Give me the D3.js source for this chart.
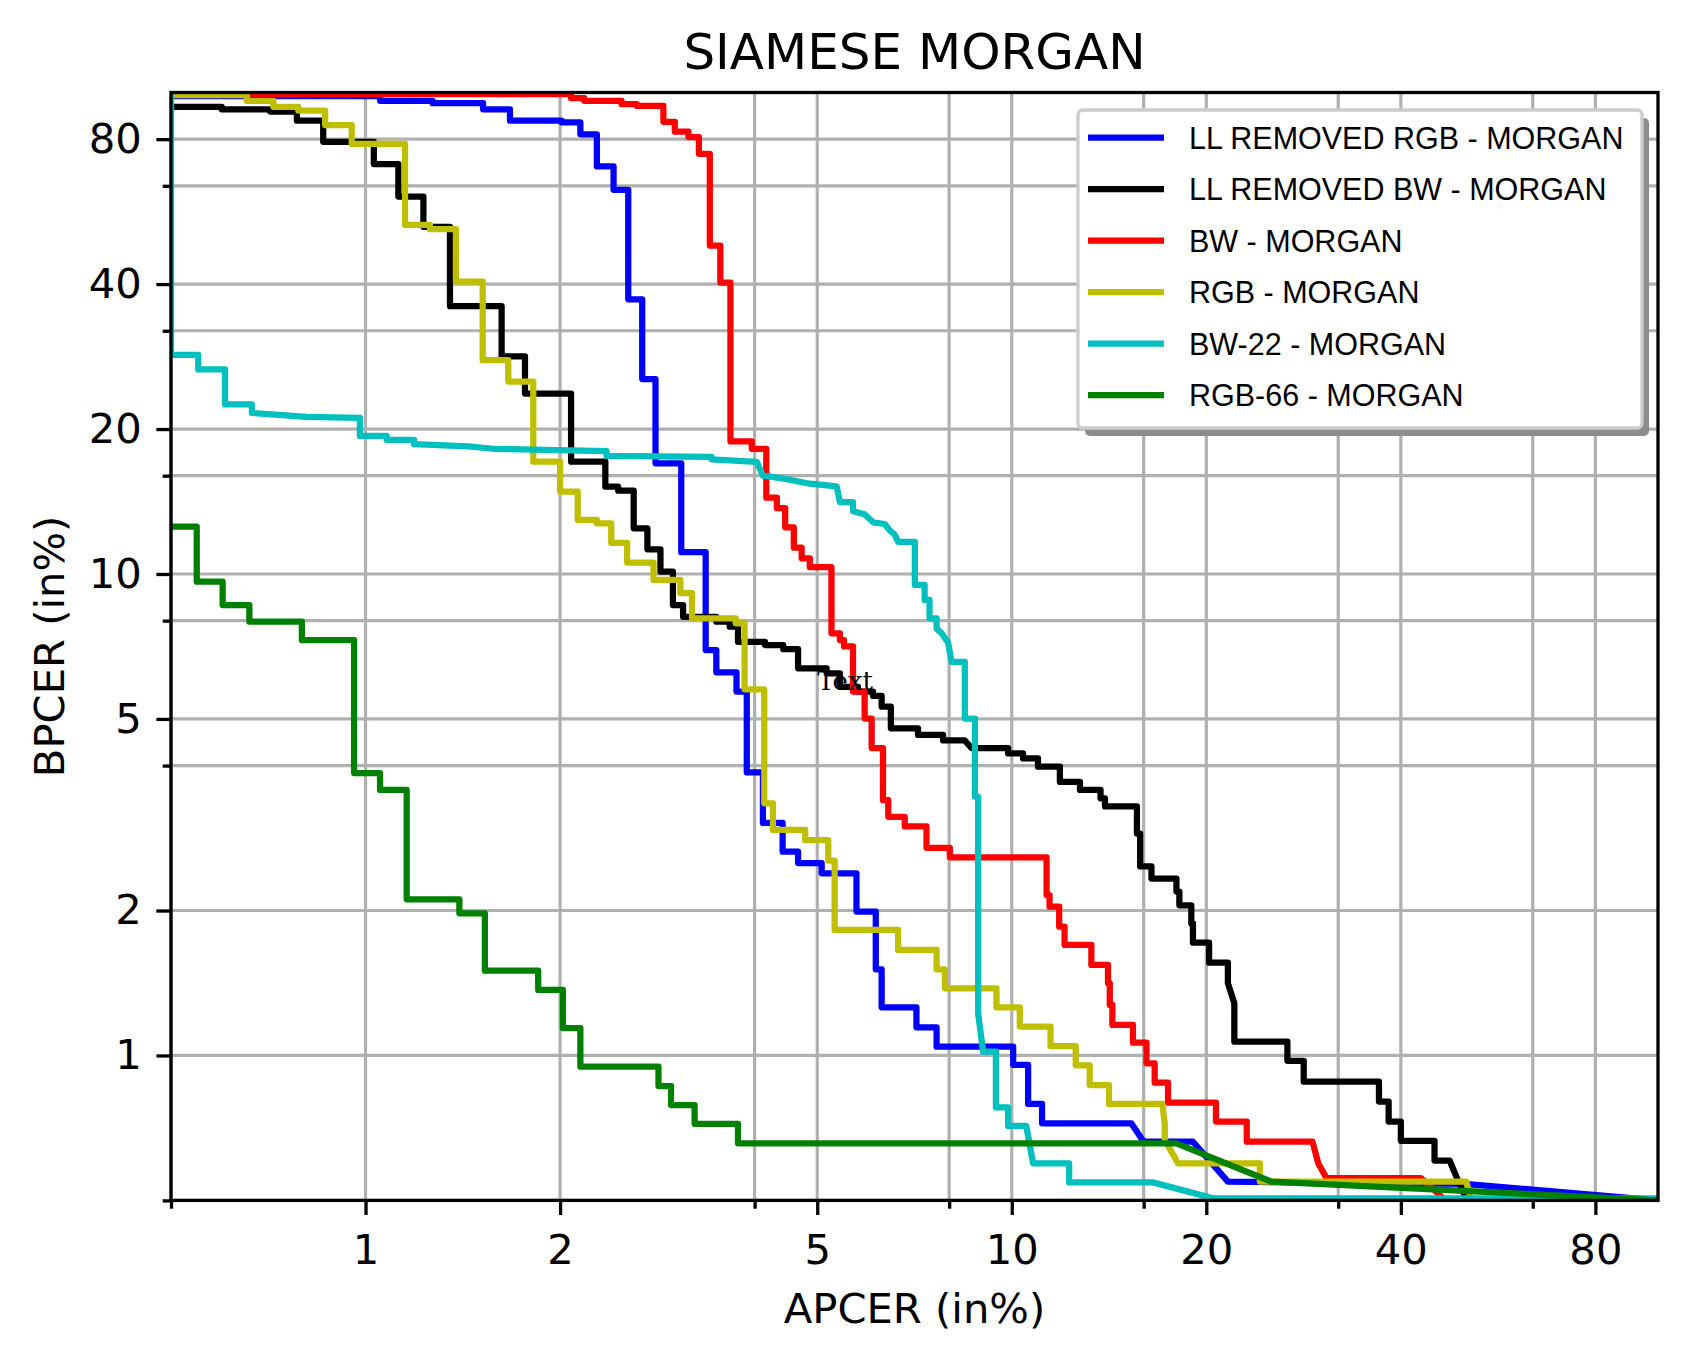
<!DOCTYPE html>
<html lang="en">
<head>
    <meta charset="utf-8">
    <title>SIAMESE MORGAN</title>
    <script src="https://d3js.org/d3.v7.min.js"></script>
    <style>
        body { margin: 0; background: #fff; }
    </style>
</head>
<body>
<div id="dataviz"></div>
<script>
// DET curves, APCER vs BPCER, both in % on log axes
var chartTitle = "SIAMESE MORGAN";
var xLabel = "APCER (in%)";
var yLabel = "BPCER (in%)";
var axisDomain = [0.5, 100];
var majorTicks = [1, 2, 5, 10, 20, 40, 80];
var minorTicks = [0.5, 4, 8, 16, 32, 64];
var noteText = "Text";
var notePos = [5, 5.75];

var seriesNames = ["LL REMOVED RGB - MORGAN", "LL REMOVED BW - MORGAN", "BW - MORGAN",
                   "RGB - MORGAN", "BW-22 - MORGAN", "RGB-66 - MORGAN"];

var llRemovedRgb = [[0.5, 98.3], [1.053, 98.3], [1.053, 96.1], [1.27, 96.1], [1.27, 95.0], [1.52, 95.0],
    [1.52, 92.3], [1.673, 92.3], [1.673, 87.4], [2.01, 87.4], [2.01, 86.7], [2.15, 86.7], [2.15, 81.9],
    [2.28, 81.9], [2.28, 70.2], [2.42, 70.2], [2.42, 62.8], [2.55, 62.8], [2.55, 37.2], [2.68, 37.2],
    [2.68, 25.4], [2.81, 25.4], [2.81, 16.98], [3.08, 16.98], [3.08, 11.1], [3.36, 11.1], [3.36, 6.95],
    [3.49, 6.95], [3.49, 6.25], [3.75, 6.25], [3.75, 5.7], [3.89, 5.7], [3.89, 3.87], [4.12, 3.87],
    [4.12, 3.04], [4.42, 3.04], [4.42, 2.65], [4.67, 2.65], [4.67, 2.51], [5.08, 2.51], [5.08, 2.39],
    [5.75, 2.39], [5.75, 1.99], [6.16, 1.99], [6.16, 1.51], [6.29, 1.51], [6.29, 1.259], [7.12, 1.259],
    [7.12, 1.144], [7.65, 1.144], [7.65, 1.043], [10.05, 1.043], [10.05, 0.956], [10.6, 0.956],
    [10.6, 0.793], [11.14, 0.793], [11.14, 0.723], [15.31, 0.723], [16.0, 0.662], [19.07, 0.662],
    [21.6, 0.547], [50.2, 0.541], [100, 0.5]];

var llRemovedBw = [[0.5, 93.4], [0.599, 93.4], [0.599, 92.3], [0.712, 92.3], [0.712, 91.3], [0.783, 91.3],
    [0.783, 87.4], [0.86, 87.4], [0.86, 79.0], [1.03, 79.0], [1.03, 71.0], [1.124, 71.0], [1.124, 60.8],
    [1.229, 60.8], [1.229, 52.6], [1.351, 52.6], [1.351, 36.0], [1.624, 36.0], [1.624, 28.3], [1.765, 28.3],
    [1.765, 23.7], [2.08, 23.7], [2.08, 17.11], [2.35, 17.11], [2.35, 15.18], [2.46, 15.18], [2.46, 14.89],
    [2.6, 14.89], [2.6, 12.44], [2.73, 12.44], [2.73, 11.25], [2.86, 11.25], [2.86, 10.11], [2.99, 10.11],
    [2.99, 8.62], [3.1, 8.62], [3.1, 8.15], [3.49, 8.15], [3.49, 7.96], [3.66, 7.96], [3.66, 7.77],
    [3.77, 7.77], [3.77, 7.23], [4.15, 7.23], [4.15, 7.12], [4.43, 7.12], [4.43, 6.98], [4.67, 6.98],
    [4.67, 6.37], [5.17, 6.37], [5.17, 6.22], [5.42, 6.22], [5.42, 5.83], [5.78, 5.83], [5.78, 5.7],
    [6.1, 5.7], [6.1, 5.58], [6.29, 5.58], [6.29, 5.3], [6.5, 5.3], [6.5, 4.78], [7.16, 4.78], [7.16, 4.63],
    [7.83, 4.63], [7.83, 4.51], [8.46, 4.51], [8.66, 4.35], [9.87, 4.35], [9.87, 4.24], [10.41, 4.24],
    [10.41, 4.14], [10.98, 4.14], [10.98, 3.98], [11.87, 3.98], [11.87, 3.7], [12.75, 3.7], [12.75, 3.56],
    [13.72, 3.56], [13.72, 3.42], [13.94, 3.42], [13.94, 3.29], [15.62, 3.29], [15.62, 2.89], [15.8, 2.89],
    [15.8, 2.47], [16.45, 2.47], [16.45, 2.33], [17.98, 2.33], [17.98, 2.19], [18.17, 2.19], [18.17, 2.05],
    [18.96, 2.05], [18.96, 1.88], [19.07, 1.88], [19.07, 1.715], [20.2, 1.715], [20.2, 1.558], [21.6, 1.558],
    [21.6, 1.413], [22.1, 1.284], [22.1, 1.068], [26.7, 1.068], [26.7, 0.975], [28.3, 0.975], [28.3, 0.882],
    [37.0, 0.882], [37.0, 0.802], [38.3, 0.802], [38.3, 0.729], [40.0, 0.729], [40.0, 0.665], [45.1, 0.665],
    [45.1, 0.605], [47.6, 0.605], [49.0, 0.551], [50.5, 0.505], [51.5, 0.45]];

var bw = [[0.5, 99.4], [2.08, 99.2], [2.08, 97.3], [2.18, 97.3], [2.18, 96.1], [2.49, 96.1], [2.49, 94.6],
    [2.63, 94.6], [2.63, 93.75], [2.89, 93.75], [2.89, 86.9], [3.01, 86.9], [3.01, 82.9], [3.16, 82.9],
    [3.16, 80.8], [3.28, 80.8], [3.28, 74.6], [3.41, 74.6], [3.41, 48.1], [3.54, 48.1], [3.54, 40.3],
    [3.67, 40.3], [3.67, 18.85], [3.96, 18.85], [3.96, 18.2], [4.17, 18.2], [4.17, 14.4], [4.33, 14.4],
    [4.33, 13.7], [4.46, 13.7], [4.46, 12.5], [4.6, 12.5], [4.6, 11.34], [4.73, 11.34], [4.73, 10.78],
    [4.87, 10.78], [4.87, 10.33], [5.26, 10.33], [5.26, 7.53], [5.42, 7.53], [5.42, 7.29], [5.5, 7.29],
    [5.5, 7.07], [5.68, 7.07], [5.68, 5.7], [5.92, 5.7], [5.92, 5.01], [6.07, 5.01], [6.07, 4.35],
    [6.32, 4.35], [6.32, 3.39], [6.44, 3.39], [6.44, 3.13], [6.83, 3.13], [6.83, 2.99], [7.38, 2.99],
    [7.38, 2.7], [8.02, 2.7], [8.02, 2.58], [11.32, 2.58], [11.32, 2.154], [11.44, 2.154], [11.44, 2.037],
    [11.84, 2.037], [11.84, 1.851], [12.07, 1.851], [12.07, 1.696], [13.28, 1.696], [13.28, 1.542],
    [14.09, 1.542], [14.09, 1.412], [14.18, 1.412], [14.18, 1.273], [14.31, 1.273], [14.31, 1.157],
    [15.4, 1.157], [15.4, 1.063], [16.16, 1.063], [16.16, 0.963], [16.64, 0.963], [16.64, 0.878],
    [17.45, 0.878], [17.45, 0.798], [20.7, 0.798], [20.7, 0.729], [23.1, 0.729], [23.1, 0.662],
    [29.2, 0.662], [29.8, 0.597], [30.7, 0.556], [43.0, 0.556], [46.5, 0.505], [48.0, 0.45]];

var rgb = [[0.5, 98.8], [0.655, 98.8], [0.655, 96.1], [0.72, 96.1], [0.72, 93.4], [0.787, 93.4],
    [0.787, 91.7], [0.866, 91.7], [0.866, 85.6], [0.952, 85.6], [0.952, 78.2], [1.151, 78.2],
    [1.151, 53.1], [1.258, 53.1], [1.258, 52.0], [1.38, 52.0], [1.38, 40.5], [1.518, 40.5], [1.518, 27.8],
    [1.663, 27.8], [1.663, 25.1], [1.818, 25.1], [1.818, 17.11], [2.0, 17.11], [2.0, 14.83], [2.13, 14.83],
    [2.13, 12.95], [2.28, 12.95], [2.28, 12.74], [2.4, 12.74], [2.4, 11.61], [2.54, 11.61], [2.54, 10.56],
    [2.79, 10.56], [2.79, 9.72], [3.07, 9.72], [3.07, 9.12], [3.2, 9.12], [3.2, 8.09], [3.74, 8.09],
    [3.74, 7.9], [3.86, 7.9], [3.86, 5.76], [4.14, 5.76], [4.14, 3.34], [4.27, 3.34], [4.27, 2.94],
    [4.79, 2.94], [4.79, 2.8], [5.2, 2.8], [5.2, 2.54], [5.32, 2.54], [5.32, 1.823], [6.67, 1.823],
    [6.67, 1.656], [7.65, 1.656], [7.65, 1.51], [7.88, 1.51], [7.88, 1.379], [9.47, 1.379], [9.47, 1.259],
    [10.29, 1.259], [10.29, 1.148], [11.48, 1.148], [11.48, 1.046], [12.56, 1.046], [12.56, 0.954],
    [13.2, 0.954], [13.2, 0.868], [14.14, 0.868], [14.14, 0.793], [17.1, 0.793], [17.25, 0.72],
    [17.25, 0.667], [18.08, 0.597], [24.2, 0.597], [24.2, 0.547], [50.5, 0.547], [51.3, 0.505], [51.5, 0.45]];

var bw22 = [[0.5, 100], [0.5, 28.5], [0.551, 28.5], [0.551, 26.6], [0.606, 26.6], [0.606, 22.5],
    [0.667, 22.5], [0.667, 21.6], [0.811, 21.2], [0.98, 21.1], [0.98, 19.35], [1.078, 19.35], [1.078, 19.0],
    [1.189, 19.0], [1.189, 18.6], [1.442, 18.4], [1.576, 18.2], [2.36, 18.0], [2.36, 17.6], [3.43, 17.5],
    [3.43, 17.3], [4.03, 17.1], [4.12, 16.0], [4.42, 15.8], [4.87, 15.4], [5.36, 15.2], [5.42, 14.1],
    [5.68, 14.1], [5.68, 13.5], [5.92, 13.3], [6.1, 12.8], [6.36, 12.7], [6.48, 12.3], [6.59, 12.07],
    [6.67, 11.66], [7.08, 11.66], [7.08, 9.49], [7.33, 9.49], [7.33, 8.83], [7.46, 8.83], [7.46, 8.09],
    [7.65, 8.09], [7.65, 7.7], [7.79, 7.53], [7.97, 7.2], [8.07, 6.57], [8.46, 6.57], [8.46, 5.01],
    [8.77, 5.01], [8.77, 3.45], [8.87, 3.45], [8.87, 1.224], [9.03, 1.018], [9.45, 1.018], [9.45, 0.78],
    [9.87, 0.78], [9.87, 0.714], [10.53, 0.714], [10.79, 0.597], [12.27, 0.597], [12.27, 0.545],
    [16.54, 0.545], [20.5, 0.505], [100, 0.505]];

var rgb66 = [[0.5, 12.54], [0.548, 12.54], [0.548, 9.64], [0.601, 9.64], [0.601, 8.62], [0.661, 8.62],
    [0.661, 7.96], [0.797, 7.96], [0.797, 7.29], [0.96, 7.29], [0.96, 3.86], [1.053, 3.86], [1.053, 3.56],
    [1.158, 3.56], [1.158, 2.11], [1.397, 2.11], [1.397, 1.974], [1.53, 1.974], [1.53, 1.5], [1.85, 1.5],
    [1.85, 1.368], [2.02, 1.368], [2.02, 1.139], [2.15, 1.139], [2.15, 0.948], [2.84, 0.948], [2.84, 0.864],
    [2.97, 0.864], [2.97, 0.789], [3.23, 0.789], [3.23, 0.721], [3.77, 0.721], [3.77, 0.657],
    [17.98, 0.657], [25.2, 0.547], [100, 0.5]];

var seriesData = [llRemovedRgb, llRemovedBw, bw, rgb, bw22, rgb66];
var colors = ["#0000ff", "#000000", "#ff0000", "#bfbf00", "#00bfbf", "#008000"];

var width = 1688,
    height = 1361,
    plot = {left: 171, right: 1658, top: 92.5, bottom: 1200.4};

var sans = "'DejaVu Sans', sans-serif";

var svg = d3.select("#dataviz")
    .append("svg")
    .attr("width", width)
    .attr("height", height)
    .style("display", "block");

var x = d3.scaleLog().domain(axisDomain).range([plot.left, plot.right]);
var y = d3.scaleLog().domain(axisDomain).range([plot.bottom, plot.top]);

svg.append("defs").append("clipPath")
    .attr("id", "plotclip")
    .append("rect")
    .attr("x", plot.left)
    .attr("y", plot.top)
    .attr("width", plot.right - plot.left)
    .attr("height", plot.bottom - plot.top);

// grid on major and minor ticks
var gridTicks = majorTicks.concat(minorTicks);
var grid = svg.append("g").attr("stroke", "#b0b0b0").attr("stroke-width", 3.2);
grid.selectAll(".gx")
    .data(gridTicks)
    .enter()
    .append("line")
    .attr("x1", function(d) { return x(d); })
    .attr("x2", function(d) { return x(d); })
    .attr("y1", plot.top)
    .attr("y2", plot.bottom);
grid.selectAll(".gy")
    .data(gridTicks)
    .enter()
    .append("line")
    .attr("y1", function(d) { return y(d); })
    .attr("y2", function(d) { return y(d); })
    .attr("x1", plot.left)
    .attr("x2", plot.right);

var line = d3.line()
    .x(function(d) { return x(d[0]); })
    .y(function(d) { return y(d[1]); });

svg.append("g")
    .attr("clip-path", "url(#plotclip)")
    .selectAll("path")
    .data(seriesData)
    .enter()
    .append("path")
    .attr("d", line)
    .attr("fill", "none")
    .attr("stroke", function(d, i) { return colors[i]; })
    .attr("stroke-width", 6.25)
    .attr("stroke-linejoin", "round")
    .attr("stroke-linecap", "square");

// axes
function styleAxis(g) {
    g.select(".domain").remove();
    g.selectAll("line").attr("stroke", "#000").attr("stroke-width", 3.3);
    g.selectAll("text")
        .attr("fill", "#000")
        .style("font-family", sans)
        .style("font-size", "41.7px");
}

svg.append("g")
    .attr("transform", "translate(0," + plot.bottom + ")")
    .call(d3.axisBottom(x).tickValues(majorTicks).tickFormat(d3.format("d"))
        .tickSize(14.6).tickPadding(19).tickSizeOuter(0))
    .call(styleAxis);
svg.append("g")
    .attr("transform", "translate(0," + plot.bottom + ")")
    .call(d3.axisBottom(x).tickValues(minorTicks).tickFormat(function() { return ""; })
        .tickSize(8.3).tickSizeOuter(0))
    .call(styleAxis);
svg.append("g")
    .attr("transform", "translate(" + plot.left + ",0)")
    .call(d3.axisLeft(y).tickValues(majorTicks).tickFormat(d3.format("d"))
        .tickSize(14.6).tickPadding(14.6).tickSizeOuter(0))
    .call(styleAxis);
svg.append("g")
    .attr("transform", "translate(" + plot.left + ",0)")
    .call(d3.axisLeft(y).tickValues(minorTicks).tickFormat(function() { return ""; })
        .tickSize(8.3).tickSizeOuter(0))
    .call(styleAxis);

svg.append("rect")
    .attr("x", plot.left)
    .attr("y", plot.top)
    .attr("width", plot.right - plot.left)
    .attr("height", plot.bottom - plot.top)
    .attr("fill", "none")
    .attr("stroke", "#000")
    .attr("stroke-width", 3.3);

svg.append("text")
    .attr("x", x(notePos[0]))
    .attr("y", y(notePos[1]))
    .style("font-family", "'DejaVu Serif', serif")
    .style("font-size", "26px")
    .text(noteText);

// labels
svg.append("text")
    .attr("x", (plot.left + plot.right) / 2)
    .attr("y", 69)
    .attr("text-anchor", "middle")
    .style("font-family", sans)
    .style("font-size", "50px")
    .text(chartTitle);

svg.append("text")
    .attr("x", (plot.left + plot.right) / 2)
    .attr("y", 1323)
    .attr("text-anchor", "middle")
    .style("font-family", sans)
    .style("font-size", "41.7px")
    .text(xLabel);

svg.append("text")
    .attr("transform", "translate(64," + (plot.top + plot.bottom) / 2 + ") rotate(-90)")
    .attr("text-anchor", "middle")
    .style("font-family", sans)
    .style("font-size", "41.7px")
    .text(yLabel);

// legend with shadow
var legend = svg.append("g").attr("transform", "translate(1078,110)");
legend.append("rect")
    .attr("x", 7).attr("y", 8)
    .attr("width", 564).attr("height", 318)
    .attr("rx", 5)
    .attr("fill", "#8c8c8c");
legend.append("rect")
    .attr("width", 564).attr("height", 318)
    .attr("rx", 5)
    .attr("fill", "#fff")
    .attr("stroke", "#cccccc")
    .attr("stroke-width", 3.3);

var entry = legend.selectAll(".entry")
    .data(seriesNames)
    .enter()
    .append("g")
    .attr("transform", function(d, i) { return "translate(0," + (27.7 + i * 51.5) + ")"; });
entry.append("line")
    .attr("x1", 10).attr("x2", 86)
    .attr("stroke", function(d, i) { return colors[i]; })
    .attr("stroke-width", 6.25);
entry.append("text")
    .attr("x", 111)
    .attr("y", 11)
    .style("font-family", "'Liberation Sans', Arial, sans-serif")
    .style("font-size", "30.5px")
    .text(function(d) { return d; });
</script>
</body>
</html>
